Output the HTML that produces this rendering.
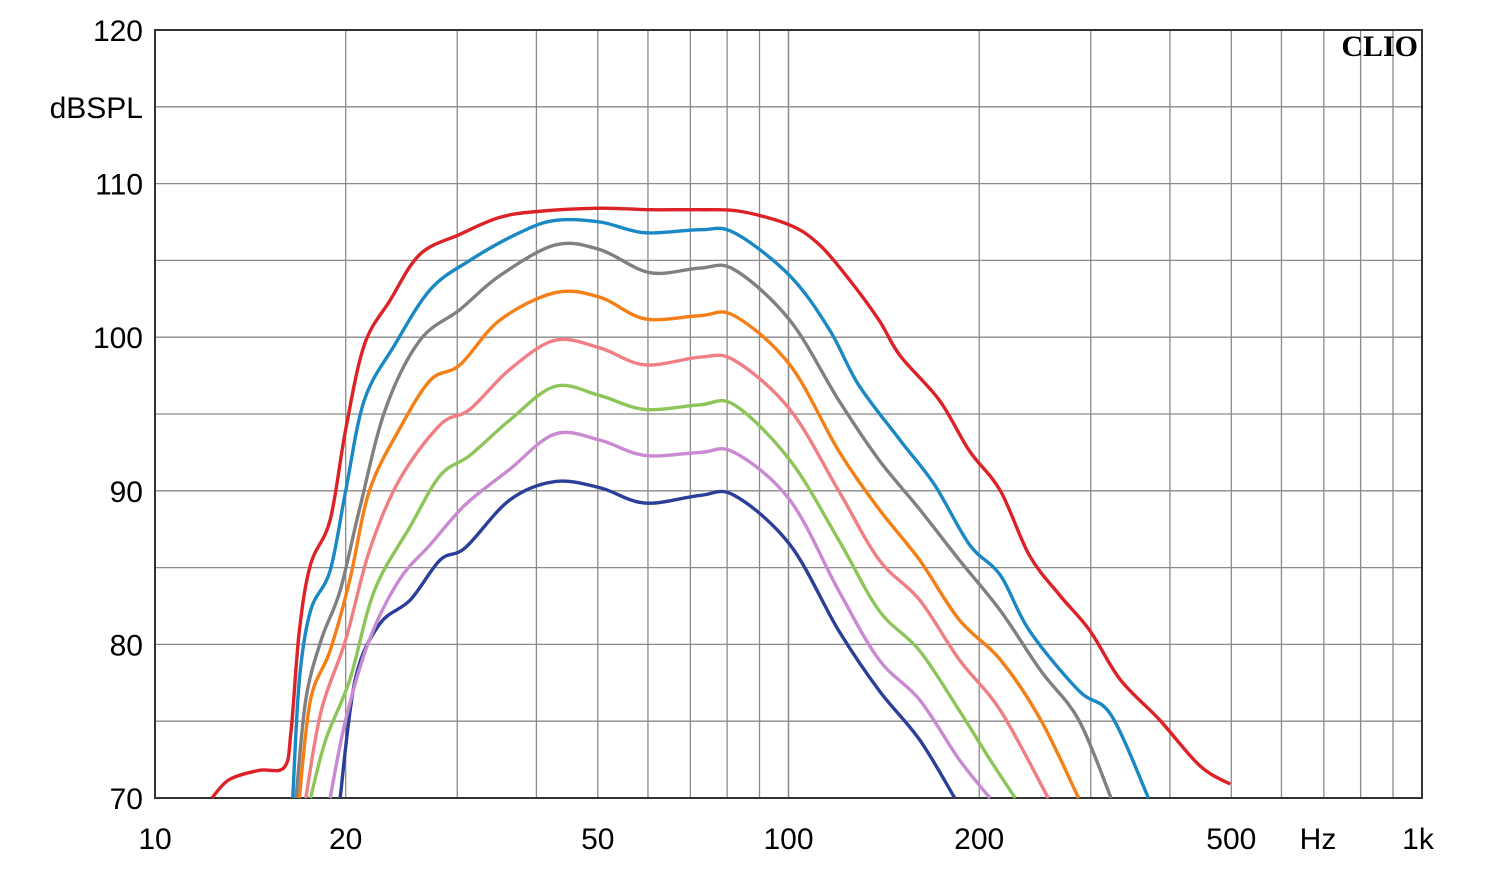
<!DOCTYPE html>
<html><head><meta charset="utf-8"><style>
html,body{margin:0;padding:0;background:#fff;}
svg{display:block;font-family:"Liberation Sans",sans-serif;}
</style></head><body>
<svg id="chart" width="1500" height="872" viewBox="0 0 1500 872" xmlns="http://www.w3.org/2000/svg">
<g id="grid"></g>
<g id="series"></g>
<g id="labels"></g>
<text x="1418" y="56" text-anchor="end" font-family="Liberation Serif,serif" font-weight="bold" font-size="30">CLIO</text>
</svg>
<script>
const yTicks=[120,110,100,90,80,70];
const xTickVals=[10,20,50,100,200,500,1000];
const xTickLabels=["10","20","50","100","200","500","1k"];
const redF=[12.3,13.1,14.6,16.0,16.4,16.9,17.6,18.9,20,21.4,23.5,26.2,30.3,35,40.5,50.4,60.4,72.5,83.8,100.5,112,125,139,150,173,193,216,240,268,299,334,385,446,498];
const redD=[70,71.2,71.8,72,74.4,80.9,85.2,88.1,94,99.5,102.4,105.4,106.7,107.8,108.2,108.4,108.3,108.3,108.2,107.3,106,103.7,101.1,98.8,95.9,92.6,90,85.8,83.2,80.9,77.7,75.1,72.1,70.9];
const blueF=[16.5,16.9,17.6,18.9,20,21.4,23.9,27.2,31.4,37.6,42.8,50.4,59.3,72.5,82.1,100.5,116,129,150,170,193,216,240,287,323,370];
const blueD=[70,77.7,82.2,84.8,90,95.9,99.5,103.1,105,106.8,107.6,107.5,106.8,107,106.8,104,100.5,96.9,93.3,90.4,86.5,84.5,80.9,77,75.4,70];
const grayF=[16.7,17.3,18.3,19.6,21,23.1,26.2,30.3,35,42.8,50.4,60.4,72.5,82.1,100.5,120,139,161,186,216,250,287,323];
const grayD=[70,76.4,80.3,83.5,88.7,95.3,99.8,101.8,104,106,105.7,104.2,104.5,104.4,101.1,95.9,92,88.8,85.5,82.2,78.3,75.1,70];
const orangeF=[16.9,17.6,18.9,20.3,21.8,24.3,27.2,30.3,35,42.8,50.4,59.3,72.5,82.1,100.5,120,139,161,186,216,250,287];
const orangeD=[70,76.4,79.6,84.2,90,94,97.2,98.2,101.1,102.9,102.6,101.2,101.4,101.4,98.2,92.6,88.8,85.5,81.6,79,75.1,70];
const pinkF=[17.3,18.3,20,21.8,24.3,28.2,31.4,36.3,42.8,50.4,59.3,72.5,82.1,100.5,120,139,161,186,216,257];
const pinkD=[70,75.7,80.3,86.1,90.7,94.3,95.3,97.9,99.8,99.3,98.2,98.7,98.5,95.3,90,85.5,82.9,79,75.7,70];
const greenF=[17.6,18.6,20.3,22.2,25.3,28.2,31.4,36.3,42.8,50.4,59.3,72.5,82.1,100.5,120,139,161,186,208,228];
const greenD=[70,73.8,77.7,83.5,87.7,91,92.3,94.6,96.8,96.2,95.3,95.6,95.6,92,86.8,82.2,79.6,75.7,72.5,70];
const violetF=[18.9,20,21.8,24.3,27.2,30.9,36.3,42.8,50.4,59.3,72.5,82.1,100.5,120,139,161,186,208];
const violetD=[70,75.1,80.3,84.2,86.5,89.1,91.4,93.7,93.3,92.3,92.5,92.5,89.4,83.5,79,76.4,72.5,70];
const navyF=[19.6,20.7,22.6,25.3,28.2,30.9,36.3,42.8,50.4,59.3,72.5,82.1,100.5,120,139,161,183];
const navyD=[70,77.7,81.3,82.9,85.5,86.3,89.4,90.6,90.2,89.2,89.7,89.7,86.5,80.9,77,73.8,70];

const L=155,R=1422,T=30,B=798;
const xS=f=>L+(Math.log10(f)-1)/2*(R-L);
const yS=d=>T+(120-d)/50*(B-T);
const NS="http://www.w3.org/2000/svg";
function mk(tag,parent){const e=document.createElementNS(NS,tag);parent.appendChild(e);return e;}
const grid=document.getElementById('grid'),ser=document.getElementById('series'),lab=document.getElementById('labels');
for(let d=70;d<=120;d+=5){const l=mk('line',grid);


l.setAttribute('x1',L);l.setAttribute('x2',R);l.setAttribute('y1',yS(d));l.setAttribute('y2',yS(d));l.setAttribute('stroke','#8a8a8a');l.setAttribute('stroke-width','1.3');}
for(let dec=10;dec<1000;dec*=10)for(let m=1;m<=10;m++){const f=dec*m;const l=mk('line',grid);


l.setAttribute('x1',xS(f));l.setAttribute('x2',xS(f));l.setAttribute('y1',T);l.setAttribute('y2',B);l.setAttribute('stroke','#8a8a8a');l.setAttribute('stroke-width','1.3');}
const fr=mk('rect',grid);


fr.setAttribute('x',L);fr.setAttribute('y',T);fr.setAttribute('width',R-L);fr.setAttribute('height',B-T);fr.setAttribute('fill','none');fr.setAttribute('stroke','#333');fr.setAttribute('stroke-width','2');
const series=[["red",redF,redD,"#dc2227"],["blue",blueF,blueD,"#1a88c4"],["gray",grayF,grayD,"#808080"],["orange",orangeF,orangeD,"#f57f17"],["pink",pinkF,pinkD,"#ef7f84"],["green",greenF,greenD,"#8dc55a"],["violet",violetF,violetD,"#c98ad2"],["navy",navyF,navyD,"#2b3f98"]];
series.slice().reverse().forEach(s=>{const pts=s[1].map((f,i)=>[xS(f),yS(s[2][i])]);
let d='M'+pts[0][0]+','+pts[0][1];
for(let i=0;i<pts.length-1;i++){const p0=pts[Math.max(0,i-1)],p1=pts[i],p2=pts[i+1],p3=pts[Math.min(pts.length-1,i+2)];
d+=' C'+(p1[0]+(p2[0]-p0[0])/6)+','+(p1[1]+(p2[1]-p0[1])/6)+' '+(p2[0]-(p3[0]-p1[0])/6)+','+(p2[1]-(p3[1]-p1[1])/6)+' '+p2[0]+','+p2[1];}
const p=mk('path',ser);


p.setAttribute('d',d);p.setAttribute('fill','none');p.setAttribute('stroke',s[3]);p.setAttribute('stroke-width','3.4');p.setAttribute('stroke-linejoin','round');});
yTicks.forEach(v=>{const t=mk('text',lab);


t.setAttribute('x',143);t.setAttribute('y',yS(v)+11);t.setAttribute('text-anchor','end');t.setAttribute('font-size','30');t.textContent=v;});
const yt=mk('text',lab);


yt.setAttribute('x',143);yt.setAttribute('y',yS(115)+11);yt.setAttribute('text-anchor','end');yt.setAttribute('font-size','30');yt.textContent='dBSPL';
xTickVals.forEach((v,i)=>{const t=mk('text',lab);


t.setAttribute('x',xS(v)+(v==1000?-4:0));t.setAttribute('y',849);t.setAttribute('text-anchor','middle');t.setAttribute('font-size','30');t.textContent=xTickLabels[i];});
const xt=mk('text',lab);


xt.setAttribute('x',1318);xt.setAttribute('y',849);xt.setAttribute('text-anchor','middle');xt.setAttribute('font-size','30');xt.textContent='Hz';
</script>
</body></html>
